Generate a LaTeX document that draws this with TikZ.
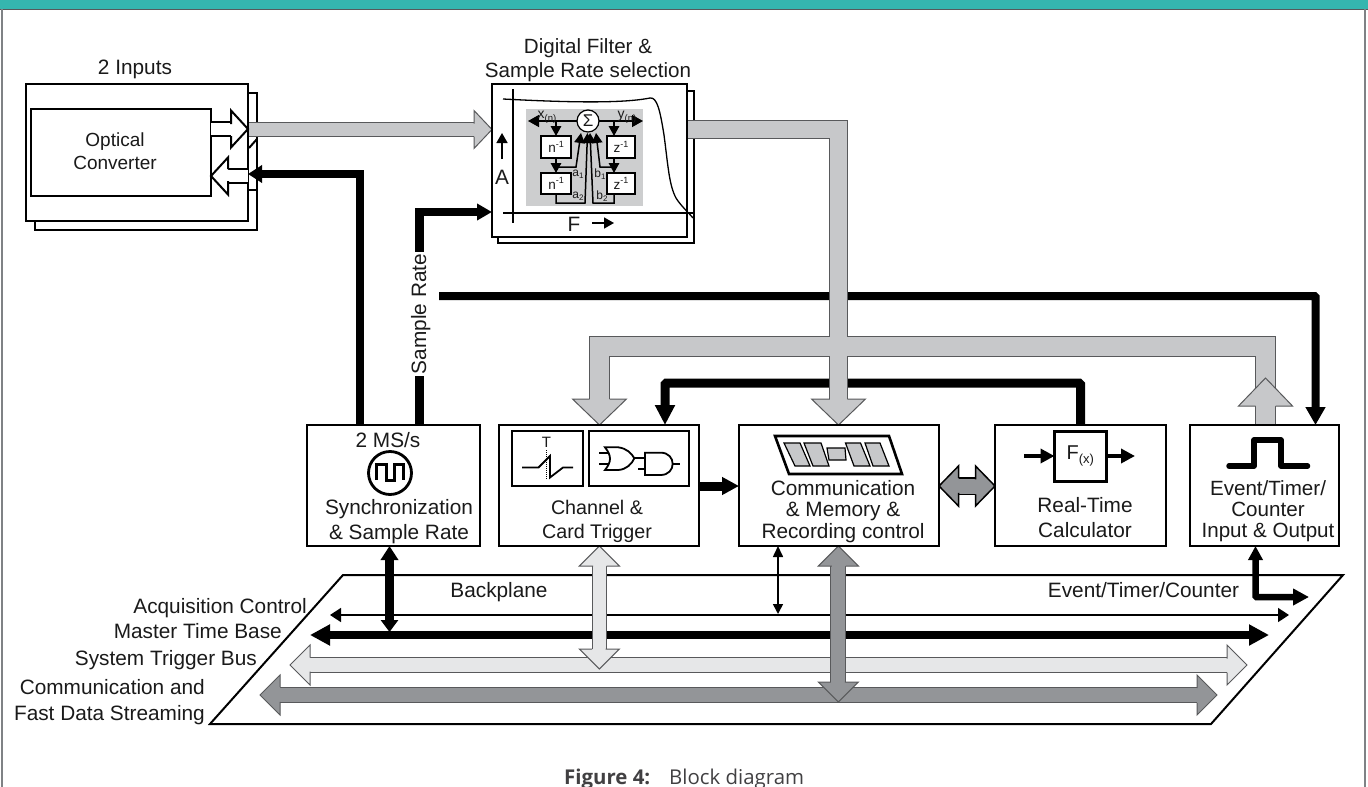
\documentclass[tikz,border=0pt]{standalone}
\usepackage{fontspec}
\setmainfont{Liberation Sans}
\newfontfamily\capfont{Open Sans}
\usetikzlibrary{arrows.meta,calc}
\pgfdeclarelayer{bgA}\pgfdeclarelayer{bgB}\pgfsetlayers{bgA,bgB,main}
\definecolor{band}{HTML}{35B6AF}
\definecolor{framegrey}{HTML}{7F8285}
\definecolor{busgrey}{HTML}{C7C8CA}
\definecolor{buslight}{HTML}{E6E7E8}
\definecolor{busdark}{HTML}{939598}
\definecolor{busedge}{HTML}{58595B}
\definecolor{panelgrey}{HTML}{CDCECF}
\definecolor{inkc}{HTML}{1A1A1A}
\definecolor{captionc}{HTML}{414042}
\newcommand{\fs}[1]{\fontsize{#1}{#1}\selectfont}
\newcommand{\lowr}[2]{\raisebox{-.22em}{\fs{#1}#2}}
\newcommand{\upr}[2]{\raisebox{.42em}{\fs{#1}#2}}
% tip, angle, length, half width, half shaft, fill, edge colour, edge width
\newcommand{\fathead}[8]{%
  \begin{scope}[shift={(#1)},rotate=#2]
    \fill[#6] (0,0)--(-#3,#4)--(-#3,-#4)--cycle;
    \draw[#7,line width=#8,line join=miter,line cap=butt] (-#3,#5)--(-#3,#4)--(0,0)--(-#3,-#4)--(-#3,-#5);
  \end{scope}}
% tail, tip, angle, half shaft, half width, length, fill, edge colour, edge width
\newcommand{\fatarrow}[9]{%
  \draw[#8,line width=2*#4+2*#9,shorten >=#6 pt-.5pt] (#1)--(#2);
  \draw[#7,line width=2*#4,shorten >=#6 pt-.5pt] (#1)--(#2);
  \fathead{#2}{#3}{#6}{#5}{#4+.5*#9}{#7}{#8}{#9}}
% end one, end two, angle at two, half shaft, half width, length, fill, edge colour, edge width
\newcommand{\fatdouble}[9]{%
  \draw[#8,line width=2*#4+2*#9,shorten >=#6 pt-.5pt,shorten <=#6 pt-.5pt] (#1)--(#2);
  \draw[#7,line width=2*#4,shorten >=#6 pt-.5pt,shorten <=#6 pt-.5pt] (#1)--(#2);
  \fathead{#2}{#3}{#6}{#5}{#4+.5*#9}{#7}{#8}{#9}
  \fathead{#1}{#3+180}{#6}{#5}{#4+.5*#9}{#7}{#8}{#9}}
\tikzset{
  lab/.style={anchor=base,inner sep=0pt,text=inkc,font=\fs{20.8}},
  mlab/.style={anchor=center,inner sep=0pt,text=inkc,align=center},
  blockbox/.style={draw=black,fill=white,line width=2pt,anchor=north west,inner sep=0pt,outer sep=0pt},
  tinybox/.style={draw=black,fill=white,line width=1.2pt,anchor=north west,inner sep=0pt,outer sep=0pt,font=\fs{13.5},text=inkc},
  blackbus/.style={draw=black,line width=#1},
  tinyline/.style={draw=black,line width=1.5pt,-{Triangle[length=10pt,width=10.5pt]}},
}
\begin{document}
\begin{tikzpicture}[x=1pt,y=-1pt]
\useasboundingbox (0,0) rectangle (1368,787);
% page furniture
\fill[band] (0,0) rectangle (1368,9);
\draw[busedge,line width=1pt] (0,9.3)--(1368,9.3);
\draw[framegrey,line width=1.5pt] (2,9)--(2,787);
\draw[framegrey,line width=1.5pt] (1365,9)--(1365,787);

% ---- blocks
\begin{pgfonlayer}{bgA}
  \node[blockbox,minimum width=222pt,minimum height=137pt] (opticalback) at (35,93) {};
  \node[blockbox,minimum width=196pt,minimum height=152pt] (filterback) at (498,91) {};
  \draw[black,line width=2pt,fill=white] (210,724)--(343,575)--(1343,575)--(1211,724)--cycle;
\end{pgfonlayer}
\node[blockbox,minimum width=222pt,minimum height=137pt] (optical) at (26,84) {};
\node[blockbox,minimum width=180pt,minimum height=87pt] (converter) at (31,109) {};
\node[mlab,font=\fontsize{19}{23}\selectfont] (convlabel) at (115,151.5) {Optical\\Converter};
\node[lab] (inputs) at (135,74.5) {2 Inputs};

\node[blockbox,minimum width=195pt,minimum height=153pt] (filter) at (492,84) {};
\node[mlab,font=\fontsize{20.6}{24}\selectfont] (filtertitle) at (588,60) {Digital Filter \&\\Sample Rate selection};

\node[blockbox,minimum width=173pt,minimum height=121pt] (sync) at (307,425) {};
\node[blockbox,minimum width=200pt,minimum height=121pt] (trigger) at (499,425) {};
\node[blockbox,minimum width=200pt,minimum height=121pt] (comm) at (739,425) {};
\node[blockbox,minimum width=171pt,minimum height=121pt] (rtc) at (995,425) {};
\node[blockbox,minimum width=149pt,minimum height=121pt] (event) at (1190,425) {};

% ---- small arrows in the converter
\coordinate (convA) at (converter.east |- 0,129);
\coordinate (convB) at (converter.east |- 0,176);
\coordinate (optA) at (optical.east |- 0,129);
\coordinate (optB) at (optical.east |- 0,176);
\fatarrow{convA}{optA}{0}{6}{18.5}{17}{white}{black}{2}
\fatarrow{optB}{convB}{180}{6}{18.5}{17}{white}{black}{2}
\begin{pgfonlayer}{bgB}
  \draw[black,line width=2pt] (249,148)--(257,139);
  \draw[black,line width=2pt] (248,190)--(257,190);
\end{pgfonlayer}

% ---- filter drawing
\draw[black,line width=1.3pt] (503,99) .. controls (560,102) and (620,104) .. (650,98)
   .. controls (657,97) and (660,110) .. (664,135)
   .. controls (668,165) and (669,185) .. (676,198) .. controls (681,206) and (688,212) .. (693,218);
\draw[black,line width=1.3pt] (513,89)--(513,223);
\draw[black,line width=1.3pt] (503,213)--(693,213);
\node[fill=panelgrey,anchor=north west,inner sep=0pt,minimum width=117pt,minimum height=97pt] (panel) at (526,109) {};
\node[circle,draw=black,fill=white,line width=1.2pt,inner sep=0pt,outer sep=0pt,minimum size=22pt,font=\fs{17},text=inkc] (sigma) at (588,121) {Σ};
\node[tinybox,minimum width=30pt,minimum height=22pt] (n1) at (541,136) {n\upr{9}{-1}};
\node[tinybox,minimum width=30pt,minimum height=21pt] (n2) at (541,173) {n\upr{9}{-1}};
\node[tinybox,minimum width=28pt,minimum height=22pt] (z1) at (607,136) {z\upr{9}{-1}};
\node[tinybox,minimum width=28pt,minimum height=21pt] (z2) at (607,173) {z\upr{9}{-1}};
\coordinate (xend) at (528,121);
\coordinate (yend) at (643,121);
\draw[tinyline,-{Triangle[length=11pt,width=12pt]}] (sigma.west)--(xend);
\draw[tinyline,-{Triangle[length=11pt,width=12pt]}] (sigma.east)--(yend);
\draw[tinyline] (xend -| n1.center)--(n1.north -| n1.center);
\draw[tinyline] (n1.south)--(n2.north);
\coordinate (zx) at (614,121);
\draw[tinyline] (zx)--(zx |- z1.north);
\draw[tinyline] (zx |- z1.south)--(zx |- z2.north);
\coordinate (afb) at (n1.south |- 0,167);
\draw[tinyline] (afb)--(576,167)--(581,133);
\coordinate (bfb) at (zx |- 0,167);
\draw[tinyline] (bfb)--(600,167)--(596,133);
\draw[tinyline] (n2.south)--(n2.south |- 0,203)--(585,203)--(587.5,133);
\draw[tinyline] (zx |- z2.south)--(zx |- 0,203)--(593,203)--(590,133);
\node[anchor=base,inner sep=0pt,font=\fs{14},text=inkc] (xn) at (547,118) {x\lowr{9.5}{(n)}};
\node[anchor=base,inner sep=0pt,font=\fs{14},text=inkc] (yn) at (627,118) {y\lowr{9.5}{(n)}};
\node[anchor=base,inner sep=0pt,font=\fs{12},text=inkc] (a1) at (578,176) {a\lowr{8}{1}};
\node[anchor=base,inner sep=0pt,font=\fs{12},text=inkc] (a2) at (578,198) {a\lowr{8}{2}};
\node[anchor=base,inner sep=0pt,font=\fs{12},text=inkc] (b1) at (600,177) {b\lowr{8}{1}};
\node[anchor=base,inner sep=0pt,font=\fs{12},text=inkc] (b2) at (602,199) {b\lowr{8}{2}};
\node[lab] (alab) at (502,184.5) {A};
\node[lab] (flab) at (574,231.5) {F};
\coordinate (aa) at (502,159); \coordinate (ab) at (502,133);
\draw[black,line width=1.6pt,-{Triangle[length=10pt,width=11pt]}] (aa)--(ab);
\coordinate (fa) at (592,223); \coordinate (fb) at (614,223);
\draw[black,line width=1.6pt,-{Triangle[length=10pt,width=11pt]}] (fa)--(fb);

% ---- sync block content
\node[lab] (rate) at (388,447.5) {2 MS/s};
\node[circle,draw=black,line width=2.8pt,minimum size=43pt,inner sep=0pt] (clock) at (390,473) {};
\draw[black,line width=3pt,line join=miter] (376,480)--(376,464)--(386,464)--(386,480)--(394,480)--(394,464)--(403,464)--(403,480);
\node[mlab,font=\fontsize{20.8}{25}\selectfont] (synclabel) at (399,521.5) {Synchronization\\\& Sample Rate};

% ---- trigger block content
\node[blockbox,minimum width=71pt,minimum height=55pt] (slope) at (512,431) {};
\node[blockbox,minimum width=100pt,minimum height=55pt] (gates) at (589,431) {};
\node[lab,font=\fs{15}] (tlab) at (546.5,447) {T};
\draw[black,line width=1pt,densely dotted] (546.5,450)--(546.5,480);
\draw[black,line width=1.8pt,line join=miter] (522,467.5)--(538.5,467.5)--(550,456)--(550,477.5)--(563,467.5)--(573,467.5);
\begin{scope}[shift={(300,340)},x=.33333pt,y=-.33333pt,line width=1.8pt]
  \draw[black,line join=miter] (915,322)--(955,322) .. controls (980,325) and (995,340) .. (1003,355) .. controls (995,372) and (980,388) .. (955,390)--(915,390) .. controls (935,365) and (935,347) .. (915,322)--cycle;
  \draw[black] (897,340)--(925,340) (897,372)--(925,372) (1003,355)--(1035,355) (1015,388)--(1035,388) (1120,372)--(1140,372);
  \draw[black,line join=miter] (1035,338)--(1082,338) .. controls (1130,338) and (1130,405) .. (1082,405)--(1035,405)--cycle;
\end{scope}
\node[mlab,font=\fontsize{19.7}{24}\selectfont] (triglabel) at (597,521.5) {Channel \&\\Card Trigger};

% ---- comm block content
\draw[black,line width=2.6pt,fill=white,line join=miter] (775,436)--(889,436)--(902,474)--(789,474)--cycle;
\begin{scope}[fill=busgrey,draw=black,line width=1.2pt]
  \filldraw (784,443)--(800,443)--(810,466)--(795,466)--cycle;
  \filldraw (804,443)--(821,443)--(829,466)--(813,466)--cycle;
  \filldraw (827,448)--(845,448)--(846,460)--(829,460)--cycle;
  \filldraw (845.5,443)--(860.5,443)--(870,466)--(854,466)--cycle;
  \filldraw (865,443)--(880,443)--(889,466)--(873,466)--cycle;
\end{scope}
\node[mlab,font=\fontsize{20.8}{21.5}\selectfont] (commlabel) at (843,511.5) {Communication\\\& Memory \&\\Recording control};

% ---- rtc block content
\node[draw=black,fill=white,line width=3pt,anchor=north west,inner sep=0pt,outer sep=0pt,minimum width=51.5pt,minimum height=50pt,font=\fs{20},text=inkc] (fx) at (1054.5,431) {F\lowr{13}{(x)}};
\coordinate (fxin) at (1024,456);
\coordinate (fxout) at (1135,456);
\draw[black,line width=3.5pt,-{Triangle[length=14pt,width=14pt]}] (fxin)--(fx.west);
\draw[black,line width=3.5pt,-{Triangle[length=14pt,width=14pt]}] (fx.east)--(fxout);
\node[mlab,font=\fontsize{20.8}{25}\selectfont] (rtclabel) at (1085,517.5) {Real-Time\\Calculator};

% ---- event block content
\draw[black,line width=5.5pt,line cap=round,line join=round] (1229,466)--(1254,466)--(1254,440)--(1281,440)--(1281,466)--(1307.5,466);
\node[mlab,font=\fontsize{20.6}{21}\selectfont] (eventlabel) at (1268,511) {Event/Timer/\\Counter\\Input \& Output};

% ---- backplane labels
\node[lab] (backplane) at (499,597.5) {Backplane};
\node[lab] (etc) at (1143.5,597.5) {Event/Timer/Counter};
\node[lab,anchor=base east] (acq) at (307,613.5) {Acquisition Control};
\node[lab,anchor=base east] (mtb) at (282,638.5) {Master Time Base};
\node[lab,anchor=base east] (stb) at (257,665.5) {System Trigger Bus};
\node[lab,anchor=base east] (cfd1) at (205,694.5) {Communication and};
\node[lab,anchor=base east] (cfd2) at (205,720.5) {Fast Data Streaming};

\node[lab,rotate=90,fill=white,inner xsep=2pt,inner ysep=2pt] (sr) at (426,314) {Sample Rate};
\node[anchor=base west,inner sep=0pt,text=captionc,font=\capfont\fs{20.4}] (caption) at (564,784) {\textbf{Figure 4:}\hspace{19pt}Block diagram};

% ---- connectors (behind the blocks)
\begin{pgfonlayer}{bgB}
  % buses
  \coordinate (acqL) at (330,615);  \coordinate (acqR) at (1289,615);
  \coordinate (mtbL) at (310,635);  \coordinate (mtbR) at (1269,635);
  \coordinate (stbL) at (290,665);  \coordinate (stbR) at (1247,665);
  \coordinate (fdsL) at (260,695);  \coordinate (fdsR) at (1217,695);
  \draw[black,line width=1.6pt,{Triangle[length=11pt,width=14pt]}-{Triangle[length=11pt,width=14pt]}] (acqL)--(acqR);
  \draw[black,line width=8.5pt,{Triangle[length=20pt,width=20pt]}-{Triangle[length=20pt,width=20pt]}] (mtbL)--(mtbR);
  \fatdouble{stbL}{stbR}{0}{7}{20}{20}{buslight}{busedge}{1}
  \fatdouble{fdsL}{fdsR}{0}{7.3}{20}{20}{busdark}{busedge}{1}
  % block to bus
  \coordinate (syncbus) at (sync.south -| 389.5,0);
  \draw[black,line width=8.5pt,{Triangle[length=14pt,width=17pt]}-{Triangle[length=12pt,width=17pt]}] (syncbus)--(389.5,632);
  \coordinate (trigA) at ($(trigger.south west)+(100.3,0)$);
  \coordinate (trigB) at ($(trigA)+(0,123)$);
  \fatdouble{trigA}{trigB}{-90}{6.7}{20}{20}{buslight}{busedge}{1}
  \coordinate (commB) at ($(comm.south west)+(39,0)$);
  \coordinate (commC) at ($(commB)+(0,68)$);
  \draw[black,line width=1.6pt,{Triangle[length=11pt,width=10pt]}-{Triangle[length=10pt,width=10pt]}] (commB)--(commC);
  \coordinate (commA) at ($(comm.south west)+(99.3,0)$);
  \coordinate (commD) at ($(commA)+(0,156)$);
  \fatdouble{commA}{commD}{-90}{7}{20}{20}{busdark}{busedge}{1}
  \coordinate (evIn) at ($(event.south west)+(65.5,0)$);
  \coordinate (evOut) at (1309,597);
  \draw[black,line width=6.5pt,rounded corners=1pt,{Triangle[length=14pt,width=14pt]}-{Triangle[length=16pt,width=16pt]}] (evIn)|-(evOut);
  % black control lines
  \draw[blackbus=8pt,-{Triangle[length=14pt,width=17pt]}] ($(sync.north west)+(53,0)$)|-($(optical.north east)+(0,90)$);
  \draw[blackbus=8.5pt,-{Triangle[length=15pt,width=16pt]}] ($(sync.north west)+(112.5,0)$)|-($(filter.north west)+(0,128)$);
  \coordinate (srfrom) at (439,296);
  \draw[blackbus=8pt,rounded corners=1pt,-{Triangle[length=18pt,width=19pt]}] (srfrom)-|($(event.north west)+(125.5,0)$);
  \draw[blackbus=9pt,rounded corners=1.5pt,-{Triangle[length=20pt,width=19pt]}] ($(rtc.north west)+(85.5,0)$)|-(665,383)--($(trigger.north west)+(166,0)$);
  \draw[black,line width=9pt,-{Triangle[length=17pt,width=17pt]}] ($(trigger.north east)+(0,61)$)--($(comm.north west)+(0,61)$);
  % grey data path
  \fatarrow{$(optical.north east)+(0,45.5)$}{$(filter.north west)+(0,45.5)$}{0}{6.5}{19}{18}{busgrey}{busedge}{1}
  \coordinate (netA) at (838.5,129.5);
  \coordinate (netB) at (838.5,346.5);
  \coordinate (netL) at (599.5,346.5);
  \coordinate (netR) at (1265.5,346.5);
  \coordinate (tipT) at ($(trigger.north west)+(100.5,0)$);
  \coordinate (tipC) at ($(comm.north west)+(99.5,0)$);
  \coordinate (tipE) at (1265.5,378);
  \foreach \e/\c in {2/busedge,0/busgrey}{
    \draw[\c,line width=16.5pt+\e pt,line join=miter] ($(filter.north east)+(0,45.5)$)--(netA)--($(tipC)+(0,-25)$);
    \draw[\c,line width=19pt+\e pt,line join=miter] ($(tipT)+(0,-25)$)--(netL)--(netR)--($(event.north west)+(75.5,0)$);
  }
  \fathead{tipT}{-90}{26}{27}{10}{busgrey}{busedge}{1}
  \fathead{tipC}{-90}{26}{27}{8.75}{busgrey}{busedge}{1}
  \fathead{tipE}{90}{28}{27}{10}{busgrey}{busedge}{1}
  % memory to calculator
  \fatdouble{$(comm.north east)+(0,61)$}{$(rtc.north west)+(0,61)$}{0}{7.5}{20}{19.5}{busdark}{black}{1.5}
\end{pgfonlayer}
\end{tikzpicture}
\end{document}
